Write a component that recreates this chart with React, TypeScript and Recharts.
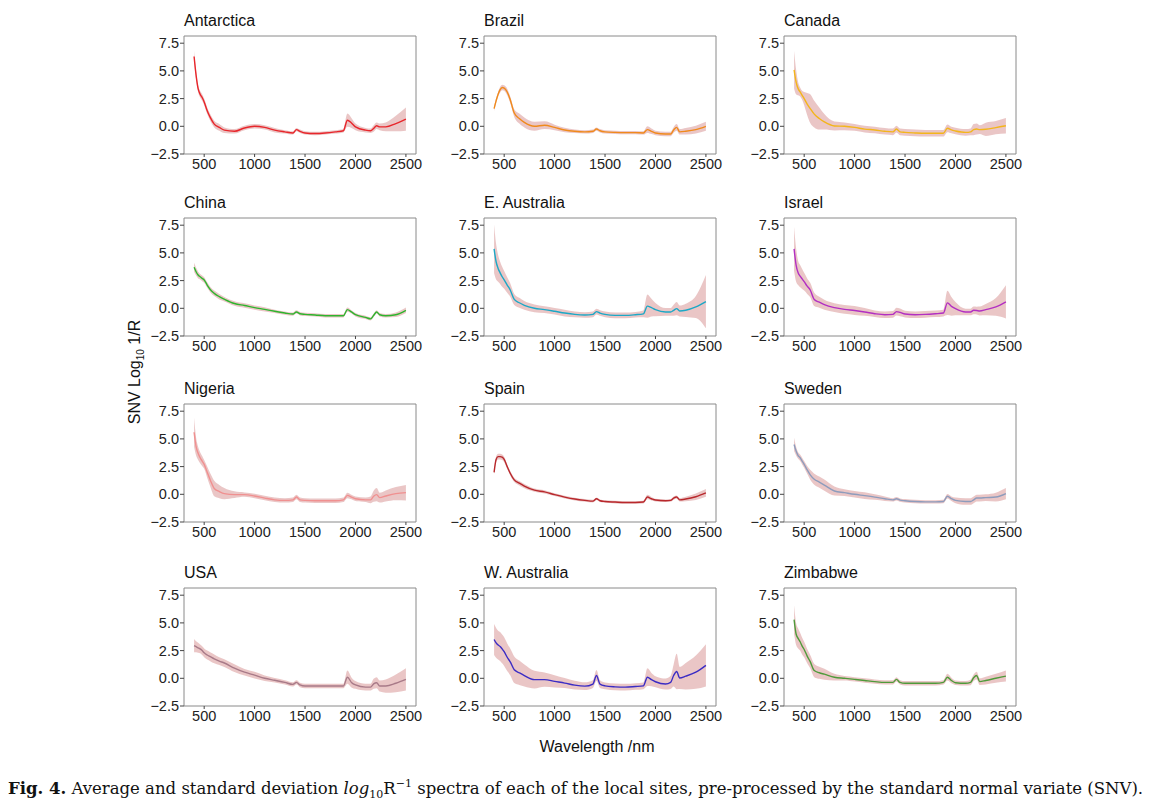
import React from 'react';
import { ComposedChart, Area, Line, XAxis, YAxis, ReferenceArea } from 'recharts';

// wavelength grid (nm) shared by every site
const wavelengths = [400, 420, 440, 460, 480, 500, 530, 560, 600, 650, 700, 800, 900, 1000, 1100, 1200, 1300, 1380, 1415, 1450, 1500, 1600, 1700, 1800, 1880, 1920, 1960, 2000, 2100, 2150, 2180, 2210, 2240, 2300, 2400, 2500];

const xTicks = [500, 1000, 1500, 2000, 2500];
const yTicks = [-2.5, 0, 2.5, 5, 7.5];

const antarcticaMean = [6.3, 4.6, 3.4, 2.9, 2.6, 2.2, 1.4, 0.8, 0.2, -0.1, -0.35, -0.45, -0.15, 0.0, -0.1, -0.35, -0.5, -0.6, -0.3, -0.45, -0.6, -0.65, -0.6, -0.5, -0.4, 0.55, 0.3, -0.05, -0.35, -0.4, -0.2, 0.05, -0.05, -0.05, 0.25, 0.65];
const antarcticaSd = [0.5, 0.4, 0.3, 0.3, 0.3, 0.3, 0.3, 0.3, 0.3, 0.3, 0.25, 0.2, 0.2, 0.2, 0.2, 0.2, 0.15, 0.15, 0.15, 0.15, 0.15, 0.15, 0.15, 0.15, 0.15, 0.6, 0.45, 0.3, 0.2, 0.2, 0.3, 0.3, 0.3, 0.4, 0.7, 1.05];

const brazilMean = [1.6, 2.3, 2.9, 3.3, 3.5, 3.45, 3.1, 2.4, 1.2, 0.7, 0.35, 0.0, 0.1, -0.1, -0.33, -0.45, -0.5, -0.45, -0.25, -0.4, -0.5, -0.55, -0.57, -0.57, -0.6, -0.3, -0.45, -0.6, -0.7, -0.7, -0.33, -0.1, -0.5, -0.45, -0.3, 0.0];
const brazilSd = [0.2, 0.2, 0.2, 0.25, 0.25, 0.25, 0.3, 0.3, 0.35, 0.45, 0.45, 0.4, 0.35, 0.25, 0.2, 0.15, 0.15, 0.15, 0.15, 0.15, 0.15, 0.15, 0.15, 0.15, 0.15, 0.3, 0.25, 0.2, 0.2, 0.2, 0.25, 0.3, 0.25, 0.3, 0.35, 0.4];

const canadaMean = [5.1, 4.0, 3.4, 3.1, 2.8, 2.5, 2.0, 1.6, 1.1, 0.7, 0.4, 0.03, 0.0, -0.1, -0.25, -0.33, -0.45, -0.5, -0.25, -0.5, -0.55, -0.6, -0.63, -0.63, -0.63, -0.18, -0.33, -0.42, -0.55, -0.5, -0.3, -0.25, -0.3, -0.27, -0.12, 0.05];
const canadaSd = [1.7, 1.1, 0.6, 0.4, 0.4, 0.6, 1.0, 1.3, 1.2, 1.0, 0.7, 0.4, 0.35, 0.3, 0.3, 0.3, 0.3, 0.3, 0.3, 0.3, 0.3, 0.3, 0.3, 0.3, 0.3, 0.35, 0.3, 0.3, 0.3, 0.3, 0.5, 0.5, 0.4, 0.6, 0.6, 0.7];

const chinaMean = [3.7, 3.3, 3.0, 2.85, 2.7, 2.56, 2.1, 1.7, 1.35, 1.05, 0.82, 0.43, 0.25, 0.06, -0.1, -0.27, -0.43, -0.52, -0.33, -0.49, -0.55, -0.6, -0.67, -0.67, -0.67, -0.12, -0.33, -0.58, -0.82, -0.95, -0.64, -0.33, -0.58, -0.67, -0.58, -0.18];
const chinaSd = [0.4, 0.35, 0.3, 0.25, 0.25, 0.25, 0.25, 0.25, 0.25, 0.25, 0.2, 0.2, 0.2, 0.2, 0.2, 0.15, 0.15, 0.15, 0.15, 0.15, 0.15, 0.15, 0.15, 0.15, 0.15, 0.2, 0.15, 0.15, 0.15, 0.15, 0.15, 0.15, 0.15, 0.15, 0.2, 0.25];

const eAustraliaMean = [5.37, 4.2, 3.6, 3.2, 2.85, 2.56, 2.1, 1.65, 0.8, 0.5, 0.27, 0.0, -0.12, -0.27, -0.43, -0.55, -0.6, -0.55, -0.3, -0.43, -0.55, -0.64, -0.64, -0.58, -0.5, 0.2, 0.06, -0.12, -0.33, -0.33, -0.18, -0.03, -0.24, -0.18, 0.12, 0.6];
const eAustraliaSd = [2.2, 1.6, 1.2, 1.0, 0.9, 0.8, 0.7, 0.6, 0.5, 0.45, 0.4, 0.35, 0.3, 0.3, 0.3, 0.25, 0.25, 0.25, 0.25, 0.25, 0.25, 0.25, 0.25, 0.25, 0.3, 1.05, 0.8, 0.6, 0.35, 0.35, 0.5, 0.6, 0.5, 0.6, 1.0, 2.4];

const israelMean = [5.37, 3.9, 3.2, 2.9, 2.65, 2.4, 2.0, 1.65, 0.8, 0.55, 0.33, 0.06, -0.1, -0.2, -0.33, -0.49, -0.58, -0.55, -0.3, -0.37, -0.52, -0.58, -0.55, -0.49, -0.43, 0.49, 0.18, -0.03, -0.33, -0.33, -0.18, -0.2, -0.24, -0.12, 0.12, 0.58];
const israelSd = [2.0, 1.5, 1.1, 1.0, 0.9, 0.8, 0.7, 0.65, 0.6, 0.5, 0.45, 0.4, 0.4, 0.4, 0.35, 0.3, 0.3, 0.3, 0.35, 0.35, 0.3, 0.3, 0.3, 0.3, 0.3, 1.1, 0.85, 0.6, 0.3, 0.3, 0.35, 0.35, 0.4, 0.5, 0.8, 1.5];

const nigeriaMean = [5.6, 4.3, 3.7, 3.3, 3.0, 2.7, 2.0, 1.3, 0.52, 0.25, 0.06, -0.03, -0.03, -0.15, -0.34, -0.5, -0.55, -0.5, -0.25, -0.5, -0.55, -0.58, -0.58, -0.58, -0.5, -0.1, -0.25, -0.4, -0.5, -0.5, -0.18, -0.03, -0.3, -0.15, 0.06, 0.15];
const nigeriaSd = [1.3, 0.8, 0.6, 0.5, 0.45, 0.4, 0.5, 0.6, 0.7, 0.6, 0.5, 0.3, 0.2, 0.2, 0.2, 0.2, 0.2, 0.2, 0.2, 0.2, 0.2, 0.2, 0.2, 0.2, 0.2, 0.25, 0.2, 0.2, 0.2, 0.3, 0.5, 0.6, 0.45, 0.5, 0.6, 0.7];

const spainMean = [1.98, 3.15, 3.4, 3.4, 3.35, 3.15, 2.5, 1.9, 1.3, 1.0, 0.74, 0.37, 0.22, -0.03, -0.25, -0.43, -0.55, -0.62, -0.4, -0.58, -0.65, -0.7, -0.74, -0.74, -0.7, -0.25, -0.4, -0.52, -0.58, -0.55, -0.34, -0.25, -0.5, -0.43, -0.22, 0.12];
const spainSd = [0.2, 0.25, 0.25, 0.25, 0.25, 0.25, 0.2, 0.2, 0.2, 0.2, 0.2, 0.15, 0.15, 0.12, 0.12, 0.12, 0.12, 0.12, 0.12, 0.12, 0.12, 0.12, 0.12, 0.12, 0.12, 0.2, 0.15, 0.12, 0.12, 0.12, 0.15, 0.15, 0.15, 0.2, 0.3, 0.35];

const swedenMean = [4.5, 3.9, 3.5, 3.3, 3.0, 2.7, 2.2, 1.76, 1.36, 1.1, 0.83, 0.3, 0.15, 0.0, -0.12, -0.25, -0.4, -0.5, -0.4, -0.52, -0.58, -0.65, -0.68, -0.68, -0.65, -0.18, -0.4, -0.55, -0.65, -0.65, -0.5, -0.34, -0.34, -0.3, -0.25, 0.06];
const swedenSd = [0.6, 0.4, 0.3, 0.3, 0.3, 0.3, 0.35, 0.45, 0.5, 0.5, 0.5, 0.4, 0.3, 0.3, 0.3, 0.25, 0.2, 0.15, 0.15, 0.15, 0.15, 0.15, 0.15, 0.15, 0.15, 0.2, 0.2, 0.25, 0.3, 0.3, 0.3, 0.3, 0.3, 0.3, 0.4, 0.5];

const usaMean = [2.95, 2.85, 2.75, 2.65, 2.5, 2.3, 2.1, 1.95, 1.75, 1.55, 1.38, 0.92, 0.55, 0.28, 0.0, -0.18, -0.37, -0.55, -0.37, -0.6, -0.7, -0.7, -0.7, -0.7, -0.7, 0.1, -0.37, -0.6, -0.8, -0.8, -0.5, -0.4, -0.7, -0.7, -0.45, -0.1];
const usaSd = [0.6, 0.5, 0.45, 0.4, 0.4, 0.4, 0.4, 0.4, 0.4, 0.35, 0.35, 0.35, 0.3, 0.3, 0.25, 0.2, 0.2, 0.2, 0.2, 0.2, 0.2, 0.2, 0.2, 0.2, 0.2, 0.6, 0.45, 0.35, 0.3, 0.3, 0.45, 0.5, 0.5, 0.6, 0.8, 1.0];

const wAustraliaMean = [3.5, 3.2, 3.0, 2.87, 2.65, 2.4, 1.9, 1.48, 0.77, 0.5, 0.25, -0.12, -0.12, -0.28, -0.43, -0.62, -0.71, -0.52, 0.25, -0.52, -0.68, -0.77, -0.8, -0.74, -0.68, 0.1, -0.12, -0.31, -0.52, -0.37, 0.25, 0.62, 0.03, 0.19, 0.55, 1.17];
const wAustraliaSd = [1.4, 1.35, 1.3, 1.3, 1.3, 1.3, 1.25, 1.2, 1.2, 1.1, 1.0, 0.8, 0.65, 0.55, 0.45, 0.4, 0.35, 0.35, 0.5, 0.35, 0.3, 0.3, 0.3, 0.3, 0.3, 0.8, 0.6, 0.5, 0.5, 0.6, 1.0, 1.6, 1.0, 1.2, 1.5, 1.9];

const zimbabweMean = [5.3, 4.0, 3.6, 3.3, 2.9, 2.6, 2.0, 1.5, 0.7, 0.5, 0.37, 0.1, 0.0, -0.1, -0.2, -0.3, -0.37, -0.37, -0.1, -0.37, -0.45, -0.45, -0.45, -0.45, -0.37, 0.1, -0.2, -0.4, -0.45, -0.37, 0.05, 0.25, -0.3, -0.2, 0.0, 0.2];
const zimbabweSd = [1.3, 1.0, 0.9, 0.8, 0.75, 0.7, 0.65, 0.6, 0.6, 0.55, 0.5, 0.3, 0.2, 0.2, 0.2, 0.2, 0.2, 0.2, 0.2, 0.2, 0.2, 0.2, 0.2, 0.2, 0.2, 0.3, 0.25, 0.2, 0.2, 0.25, 0.3, 0.35, 0.3, 0.35, 0.4, 0.5];

const sites = [
  { name: 'Antarctica', color: '#e8262b', mean: antarcticaMean, sd: antarcticaSd },
  { name: 'Brazil', color: '#f08a1c', mean: brazilMean, sd: brazilSd },
  { name: 'Canada', color: '#f3b51b', mean: canadaMean, sd: canadaSd },
  { name: 'China', color: '#2eb52e', mean: chinaMean, sd: chinaSd },
  { name: 'E. Australia', color: '#1ca8c6', mean: eAustraliaMean, sd: eAustraliaSd },
  { name: 'Israel', color: '#b22fc2', mean: israelMean, sd: israelSd },
  { name: 'Nigeria', color: '#f09090', mean: nigeriaMean, sd: nigeriaSd },
  { name: 'Spain', color: '#b8282c', mean: spainMean, sd: spainSd },
  { name: 'Sweden', color: '#8e9cbc', mean: swedenMean, sd: swedenSd },
  { name: 'USA', color: '#a87a88', mean: usaMean, sd: usaSd },
  { name: 'W. Australia', color: '#3b2cc4', mean: wAustraliaMean, sd: wAustraliaSd },
  { name: 'Zimbabwe', color: '#4f9a3a', mean: zimbabweMean, sd: zimbabweSd },
];

const FONT = '"Liberation Sans", Arial, Helvetica, sans-serif';
const rowTops = [0, 182, 368, 552];
const colLefts = [140, 440, 740];
const X_DOMAIN: [number, number] = [300, 2600];
const Y_DOMAIN: [number, number] = [-2.5, 8.15];

const fmtY = (v: number) => (v < 0 ? '\u2212' + Math.abs(v).toFixed(1) : v.toFixed(1));

function Panel({ site, left, top }: { site: typeof sites[number]; left: number; top: number }) {
  const rows = wavelengths.map((w, i) => ({
    w,
    mean: site.mean[i],
    band: [site.mean[i] - site.sd[i], site.mean[i] + site.sd[i]],
  }));
  const tick = { fill: '#222', fontSize: 14.5, fontFamily: FONT };
  return (
    <div style={{ position: 'absolute', left, top, width: 300, height: 184 }}>
      <div style={{ position: 'absolute', left: 44, top: 12, fontSize: 16, fontFamily: FONT, color: '#111', lineHeight: '18px' }}>
        {site.name}
      </div>
      <ComposedChart width={300} height={184} data={rows} margin={{ top: 36, right: 24, bottom: 0, left: 0 }}>
        <XAxis
          dataKey="w"
          type="number"
          domain={X_DOMAIN}
          ticks={xTicks}
          allowDataOverflow
          axisLine={false}
          tickLine={{ stroke: '#444' }}
          tickSize={3}
          tickMargin={2}
          height={30}
          tick={tick}
        />
        <YAxis
          type="number"
          domain={Y_DOMAIN}
          ticks={yTicks}
          allowDataOverflow
          axisLine={false}
          tickLine={{ stroke: '#444' }}
          tickSize={4}
          tickMargin={1}
          width={44}
          tick={tick}
          tickFormatter={fmtY}
        />
        <ReferenceArea x1={X_DOMAIN[0]} x2={X_DOMAIN[1]} y1={Y_DOMAIN[0]} y2={Y_DOMAIN[1]} fill="none" stroke="#8a8a8a" strokeWidth={1} />
        <Area type="monotone" dataKey="band" stroke="none" fill="#e6bcbc" fillOpacity={0.85} dot={false} activeDot={false} isAnimationActive={false} />
        <Line type="monotone" dataKey="mean" stroke={site.color} strokeWidth={1.4} dot={false} activeDot={false} isAnimationActive={false} />
      </ComposedChart>
    </div>
  );
}

export default function App() {
  return (
    <div style={{ position: 'absolute', left: 0, top: 0, width: 1156, height: 808, background: '#fff', overflow: 'hidden' }}>
      {sites.map((s, i) => (
        <Panel key={s.name} site={s} left={colLefts[i % 3]} top={rowTops[Math.floor(i / 3)]} />
      ))}
      <svg width={1156} height={808} style={{ position: 'absolute', left: 0, top: 0, pointerEvents: 'none' }}>
        <text transform="rotate(-90 140 372)" x={140} y={372} textAnchor="middle" fontFamily={FONT} fontSize={16} fill="#111">
          SNV  Log<tspan dy={4} fontSize={10}>10</tspan><tspan dy={-4}>  1/R</tspan>
        </text>
        <text x={597} y={752} textAnchor="middle" fontFamily={FONT} fontSize={16} fill="#111">
          Wavelength /nm
        </text>
      </svg>
      <div
        style={{
          position: 'absolute',
          left: 8,
          top: 774,
          fontFamily: '"DejaVu Serif", "Liberation Serif", serif',
          fontSize: 16.5,
          color: '#111',
          whiteSpace: 'nowrap',
          lineHeight: '20px',
        }}
      >
        <b>Fig. 4.</b> Average and standard deviation <i>log</i>
        <sub style={{ fontSize: 11 }}>10</sub>R<sup style={{ fontSize: 11 }}>{'\u22121'}</sup> spectra of each of the local sites, pre-processed by the standard normal variate (SNV).
      </div>
    </div>
  );
}
